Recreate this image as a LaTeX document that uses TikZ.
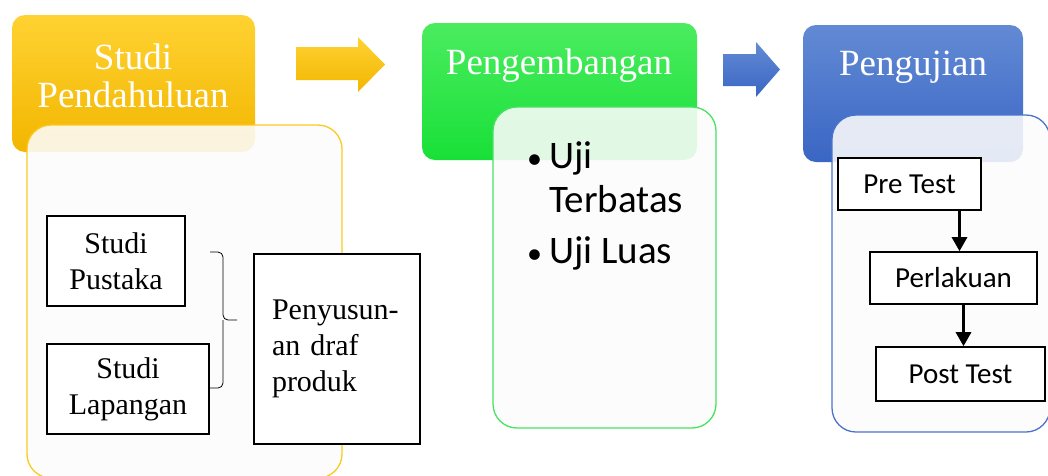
\documentclass[tikz,border=0pt]{standalone}
\usepackage{fontspec}
\setmainfont{Liberation Serif}
\newfontfamily\calibri{Carlito}
\usetikzlibrary{arrows.meta}
\definecolor{pendahuluanA}{RGB}{255,210,50}
\definecolor{pendahuluanB}{RGB}{242,182,0}
\definecolor{pengembanganA}{RGB}{75,236,95}
\definecolor{pengembanganB}{RGB}{24,224,56}
\definecolor{pengujianA}{RGB}{98,138,212}
\definecolor{pengujianB}{RGB}{58,102,196}
\definecolor{garisKuning}{RGB}{250,202,30}
\definecolor{garisHijau}{RGB}{70,226,96}
\definecolor{garisBiru}{RGB}{75,115,202}
\tikzstyle{header}=[rounded corners=13pt, inner sep=0pt]
\tikzstyle{headtext}=[text=white, align=center, font=\fontsize{37}{38}\selectfont]
\tikzset{panel/.style={rounded corners=24pt, fill=black!1, fill opacity=.88, line width=1.3pt, draw=#1}}
\tikzstyle{kotak}=[draw, fill=white, line width=1.6pt, inner sep=0pt, font=\fontsize{30}{36}\selectfont, align=center]
\tikzstyle{kotaksans}=[draw, fill=white, line width=1.6pt, inner sep=0pt, font=\calibri\fontsize{29}{34}\selectfont]
\tikzstyle{alur}=[-{Triangle[length=14pt,width=15pt]}, line width=3pt]

\begin{document}
\begin{tikzpicture}[x=1pt,y=-1pt]
  \useasboundingbox (0,0) rectangle (1048,475);

  %% Headers
  \draw (133.5,83.5) node[header,top color=pendahuluanA,bottom color=pendahuluanB,minimum width=243pt,minimum height=137pt] (H1) {};
  \draw (559.5,91.5) node[header,top color=pengembanganA,bottom color=pengembanganB,minimum width=275pt,minimum height=137pt] (H2) {};
  \draw (913,93.5) node[header,top color=pengujianA,bottom color=pengujianB,minimum width=220pt,minimum height=137pt] (H3) {};

  \draw (133,76) node[headtext] (T1) {Studi\\Pendahuluan};
  \draw (559,66) node[headtext] (T2) {Pengembangan};
  \draw (913,67) node[headtext] (T3) {Pengujian};

  %% Block arrows
  \shade[top color=pendahuluanA,bottom color=pendahuluanB] (296,47) -- (358,47) -- (358,37) -- (385,64.5) -- (358,92) -- (358,80) -- (296,80) -- cycle;
  \shade[top color=pengujianA,bottom color=pengujianB] (723,54) -- (756,54) -- (756,42) -- (780,69.5) -- (756,97) -- (756,86) -- (723,86) -- cycle;

  %% Panels
  \draw (184.5,301.5) node[panel=garisKuning,minimum width=315pt,minimum height=353pt] (C1) {};
  \draw (604.5,267.5) node[panel=garisHijau,minimum width=223pt,minimum height=321pt] (C2) {};
  \draw (941,273.5) node[panel=garisBiru,minimum width=218pt,minimum height=317pt] (C3) {};

  %% Studi Pendahuluan
  \draw (116,261) node[kotak,minimum width=138pt,minimum height=90pt] (SP) {Studi\\Pustaka};
  \draw (128,389) node[kotak,minimum width=162pt,minimum height=90pt] (SL) {Studi\\Lapangan};
  \draw (337,349) node[kotak,minimum width=166pt,minimum height=190pt,text width=130pt,align=left] (DP) {Penyusun-\\an draf\\produk\\[26pt]};
  \draw[line width=.8pt,rounded corners=5pt] (210,252) -| (223,320) -- (237,320);
  \draw[line width=.8pt,rounded corners=5pt] (210,388) -| (223,320);

  %% Pengembangan
  \draw (527,168) node[anchor=base west,inner sep=0pt,font=\calibri\fontsize{39}{44}\selectfont] (L2) {\begin{tabular}[t]{@{}l@{\hspace{7pt}}l@{}}{\fontsize{30}{30}\selectfont\textbullet} & Uji\\ & Terbatas\\[7pt] {\fontsize{30}{30}\selectfont\textbullet} & Uji Luas\end{tabular}};

  %% Pengujian
  \draw (909.5,184) node[kotaksans,minimum width=143pt,minimum height=52pt] (PT) {Pre Test};
  \draw (953.5,278) node[kotaksans,minimum width=167pt,minimum height=52pt] (PL) {Perlakuan};
  \draw (960.5,374) node[kotaksans,minimum width=169pt,minimum height=54pt] (PO) {Post Test};

  \draw[alur] ([xshift=50pt]PT.south) -- ([xshift=50pt]PT.south |- PL.north);
  \draw[alur] ([xshift=10pt]PL.south) -- ([xshift=10pt]PL.south |- PO.north);
\end{tikzpicture}
\end{document}
